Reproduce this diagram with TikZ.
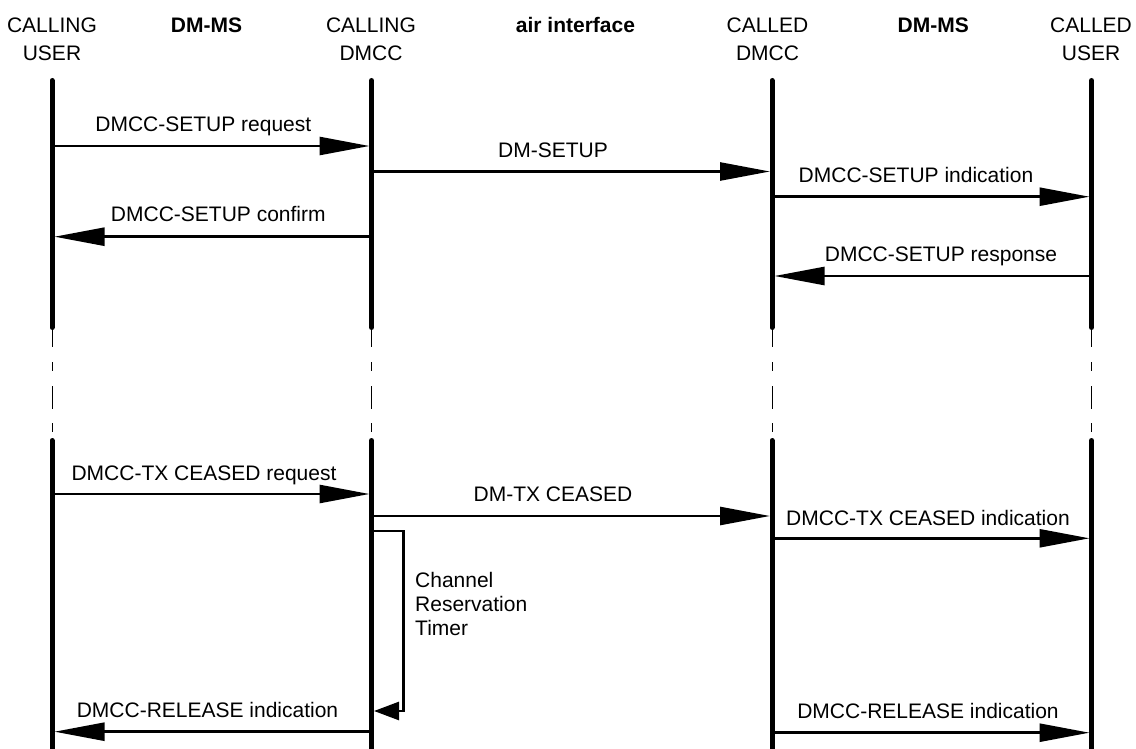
\documentclass[tikz,border=0pt]{standalone}
\usepackage{fontspec}
\setmainfont{Liberation Sans}
\usetikzlibrary{arrows.meta}
\begin{document}
\begin{tikzpicture}[x=1pt,y=-1pt,
  life/.style={line width=5pt,line cap=round},
  gapline/.style={line width=1pt,dash pattern=on 17pt off 15pt on 9pt off 15pt on 23pt off 14pt on 9pt off 20pt},
  msg/.style={line width=2.6pt,-{Triangle[length=50pt,width=18pt]}},
  timer/.style={line width=2.6pt,line join=miter,-{Triangle[length=25pt,width=18pt]}},
  lbl/.style={anchor=base,inner sep=0pt,font=\fontsize{21}{24}\selectfont},
  hdr/.style={align=center,anchor=base,inner sep=0pt,font=\fontsize{21}{28.4}\selectfont},
  hdrb/.style={hdr,font=\fontsize{21}{28.4}\selectfont\bfseries},
  note/.style={align=left,anchor=base west,inner sep=0pt,font=\fontsize{21}{23.7}\selectfont},
]
\useasboundingbox (0,0) rectangle (1136,749);
\clip (0,0) rectangle (1136,749);

% headers (base anchor = last line baseline)
\node[hdr]  (h1) at (52,60.7)    {CALLING\\USER};
\node[hdrb] (h2) at (206.5,32.3) {DM-MS};
\node[hdr]  (h3) at (371,60.7)   {CALLING\\DMCC};
\node[hdrb] (h4) at (575.5,32.3) {air interface};
\node[hdr]  (h5) at (767.5,60.7) {CALLED\\DMCC};
\node[hdrb] (h6) at (933.3,32.3) {DM-MS};
\node[hdr]  (h7) at (1091,60.7)  {CALLED\\USER};

% lifelines
\coordinate (CUt) at (52,80.5);    \coordinate (CUb) at (52,327.5);
\coordinate (CUg) at (52,330);     \coordinate (CUh) at (52,438);
\coordinate (CUl) at (52,440.5);   \coordinate (CUe) at (52,770);
\coordinate (CDt) at (371.5,80.5); \coordinate (CDb) at (371.5,327.5);
\coordinate (CDg) at (371.5,330);  \coordinate (CDh) at (371.5,438);
\coordinate (CDl) at (371.5,440.5);\coordinate (CDe) at (371.5,770);
\coordinate (DDt) at (772,80.5);   \coordinate (DDb) at (772,327.5);
\coordinate (DDg) at (772,330);    \coordinate (DDh) at (772,438);
\coordinate (DDl) at (772,440.5);  \coordinate (DDe) at (772,770);
\coordinate (DUt) at (1091.5,80.5);\coordinate (DUb) at (1091.5,327.5);
\coordinate (DUg) at (1091.5,330); \coordinate (DUh) at (1091.5,438);
\coordinate (DUl) at (1091.5,440.5);\coordinate (DUe) at (1091.5,770);

\foreach \n in {CU,CD,DD,DU}{
  \draw[life] (\n t) -- (\n b);
  \draw[gapline] (\n g) -- (\n h);
  \draw[life] (\n l) -- (\n e);
}

% message end points
\coordinate (m1a) at (54.5,146);   \coordinate (m1b) at (369.5,146);
\coordinate (m2a) at (374,171.5);  \coordinate (m2b) at (770,171.5);
\coordinate (m3a) at (774,196.7);  \coordinate (m3b) at (1089.5,196.7);
\coordinate (m4a) at (369,236.7);  \coordinate (m4b) at (54.5,236.7);
\coordinate (m5a) at (1089,276);   \coordinate (m5b) at (774.5,276);
\coordinate (m6a) at (54.5,494);   \coordinate (m6b) at (369.5,494);
\coordinate (m7a) at (374,516);    \coordinate (m7b) at (770,516);
\coordinate (m8a) at (774,538.3);  \coordinate (m8b) at (1089.5,538.3);
\coordinate (m9a) at (369,731.7);  \coordinate (m9b) at (54.5,731.7);
\coordinate (m10a) at (774,732.7); \coordinate (m10b) at (1089.5,732.7);

\draw[msg] (m1a) -- (m1b);
\draw[msg] (m2a) -- (m2b);
\draw[msg] (m3a) -- (m3b);
\draw[msg] (m4a) -- (m4b);
\draw[msg] (m5a) -- (m5b);
\draw[msg] (m6a) -- (m6b);
\draw[msg] (m7a) -- (m7b);
\draw[msg] (m8a) -- (m8b);
\draw[msg] (m9a) -- (m9b);
\draw[msg] (m10a) -- (m10b);

% labels
\node[lbl] (l1) at (203.3,131.7) {DMCC-SETUP request};
\node[lbl] (l2) at (553,157.3)   {DM-SETUP};
\node[lbl] (l3) at (916,182.7)   {DMCC-SETUP indication};
\node[lbl] (l4) at (218.3,221.7) {DMCC-SETUP confirm};
\node[lbl] (l5) at (941,261.7)   {DMCC-SETUP response};
\node[lbl] (l6) at (204,480)     {DMCC-TX CEASED request};
\node[lbl] (l7) at (553,501.5)   {DM-TX CEASED};
\node[lbl] (l8) at (928,525)     {DMCC-TX CEASED indication};
\node[lbl] (l9) at (207.5,717.7) {DMCC-RELEASE indication};
\node[lbl] (l10) at (928,718.3)  {DMCC-RELEASE indication};

% timer loop
\coordinate (t1) at (373,531);
\coordinate (t2) at (403.3,531);
\coordinate (t3) at (403.3,711);
\coordinate (t4) at (374,711);
\draw[timer] (t1) -- (t2) -- (t3) -- (t4);
\node[note] (tn) at (415,635) {Channel\\Reservation\\Timer};
\end{tikzpicture}
\end{document}
